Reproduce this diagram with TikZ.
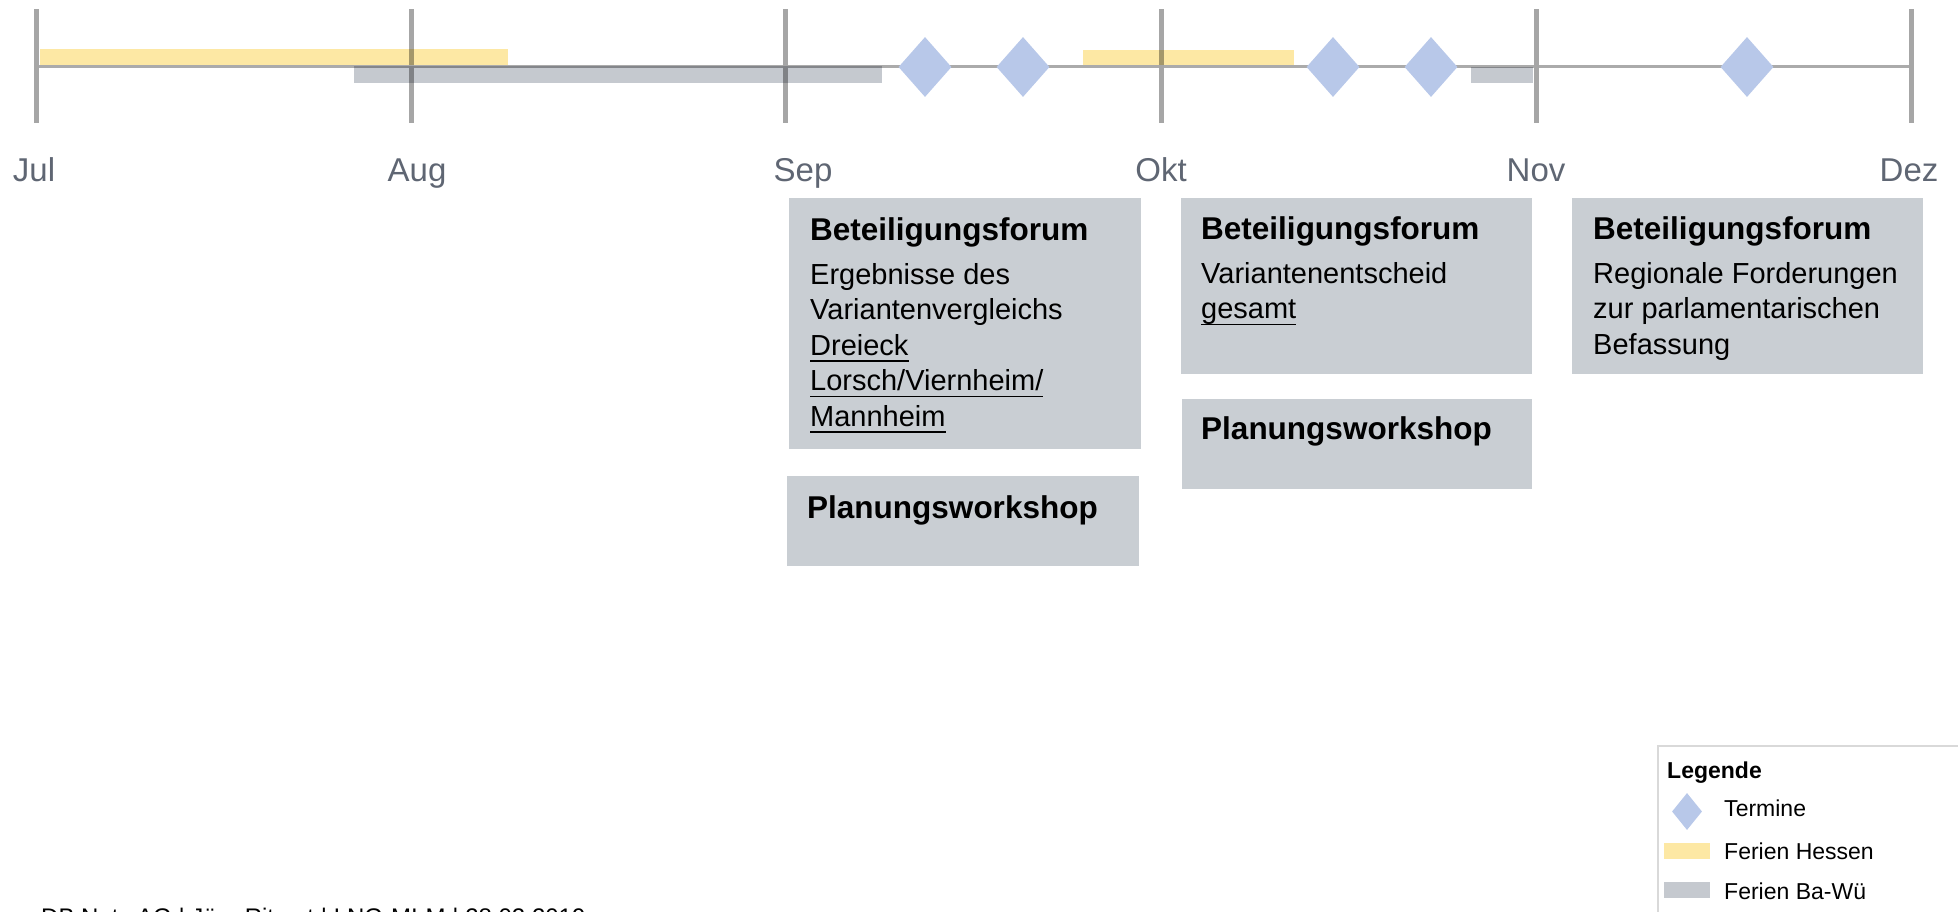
\documentclass[tikz,border=0pt]{standalone}
\usepackage{fontspec}
\setmainfont{Liberation Sans}
\usetikzlibrary{shapes.geometric}
\definecolor{tickgray}{HTML}{A6A6A6}
\definecolor{linegray}{HTML}{ABABAB}
\definecolor{hessen}{HTML}{FDE8A4}
\definecolor{bawue}{HTML}{C5C9CF}
\definecolor{terminblue}{HTML}{B8C8E9}
\definecolor{boxfill}{HTML}{C9CED3}
\definecolor{monthtxt}{HTML}{5F6673}
\definecolor{legframe}{HTML}{D9D9D9}
\newcommand\myul[1]{\setbox0\hbox{#1}\rlap{\rule[-6.5pt]{\wd0}{1.5pt}}\box0}
\begin{document}
\begin{tikzpicture}[x=1pt,y=-1pt,
  monthtick/.style={draw=tickgray, line width=5pt},
  monthlbl/.style={anchor=base, text=monthtxt, inner sep=0, font=\fontsize{33}{40}\selectfont},
  termin/.style={diamond, fill=terminblue, draw=none, minimum width=53pt, minimum height=60pt, inner sep=0},
  hbar/.style={fill=hessen},
  bbar/.style={fill=bawue},
  evbox/.style={fill=boxfill, draw=none, anchor=north west, inner sep=0},
  evtitle/.style={anchor=base west, inner sep=0, font=\fontsize{31.5}{38}\selectfont\bfseries},
  evbody/.style={anchor=base west, inner sep=0, font=\fontsize{29}{35.6}\selectfont},
  legtxt/.style={anchor=base west, inner sep=0, font=\fontsize{23}{28}\selectfont}]
\useasboundingbox (0,0) rectangle (1958,911);
\clip (0,0) rectangle (1958,911);
% timeline
\draw[draw=linegray, line width=3pt] (36,66) -- (1911,66);
\foreach \x in {36,411,785,1161,1536,1911}
  \draw[monthtick] (\x,9) -- (\x,123);
% holidays
\begin{scope}[blend mode=multiply]
  \fill[hbar] (40,49) rectangle (508,65);
  \fill[hbar] (1083,50) rectangle (1294,65);
  \fill[bbar] (354,66) rectangle (882,83);
  \fill[bbar] (1471,67) rectangle (1533,83);
\end{scope}
% appointments
\node[termin] (t1) at (925,67) {};
\node[termin] (t2) at (1023,67) {};
\node[termin] (t3) at (1333,67) {};
\node[termin] (t4) at (1431,67) {};
\node[termin] (t5) at (1747,67) {};
% months
\node[monthlbl] (mjul) at (34,181) {Jul};
\node[monthlbl] (maug) at (417,181) {Aug};
\node[monthlbl] (msep) at (803,181) {Sep};
\node[monthlbl] (mokt) at (1161,181) {Okt};
\node[monthlbl] (mnov) at (1536,181) {Nov};
\node[monthlbl] (mdez) at (1909,181) {Dez};
% event boxes
\node[evbox, minimum width=352pt, minimum height=251pt] (boxA) at (789,198) {};
\node[evbox, minimum width=352pt, minimum height=90pt] (boxB) at (787,476) {};
\node[evbox, minimum width=351pt, minimum height=176pt] (boxC) at (1181,198) {};
\node[evbox, minimum width=350pt, minimum height=90pt] (boxD) at (1182,399) {};
\node[evbox, minimum width=351pt, minimum height=176pt] (boxE) at (1572,198) {};
\node[evtitle] (titA) at (810,240) {Beteiligungsforum};
\node[evbody] (bodyA) at (810,284) {\vtop{\hbox{Ergebnisse des}\hbox{Variantenvergleichs}\hbox{\myul{Dreieck}}\hbox{\myul{Lorsch/Viernheim/}}\hbox{\myul{Mannheim}}}};
\node[evtitle] (titB) at (807,518) {Planungsworkshop};
\node[evtitle] (titC) at (1201,239) {Beteiligungsforum};
\node[evbody] (bodyC) at (1201,283) {\vtop{\hbox{Variantenentscheid}\hbox{\myul{gesamt}}}};
\node[evtitle] (titD) at (1201,439) {Planungsworkshop};
\node[evtitle] (titE) at (1593,239) {Beteiligungsforum};
\node[evbody] (bodyE) at (1593,283) {\vtop{\hbox{Regionale Forderungen}\hbox{zur parlamentarischen}\hbox{Befassung}}};
% legend
\draw[draw=legframe, line width=2pt] (1658,746) rectangle (1990,960);
\node[legtxt, font=\fontsize{23}{28}\selectfont\bfseries] (legtitle) at (1667,778) {Legende};
\node[termin, minimum width=30pt, minimum height=37pt] (legdia) at (1687,811.5) {};
\node[legtxt] (legterm) at (1724,816) {Termine};
\fill[hbar] (1664,843) rectangle (1710,859);
\node[legtxt] (leghes) at (1724,859) {Ferien Hessen};
\fill[bbar] (1664,882) rectangle (1710,898);
\node[legtxt] (legbw) at (1724,899) {Ferien Ba-Wü};
% footer
\node[anchor=base west, inner sep=0, font=\fontsize{24}{29}\selectfont] (footer) at (41,925) {DB Netz AG | Jörg Ritzert | I.NG-MI-M | 28.02.2019};
\end{tikzpicture}
\end{document}
